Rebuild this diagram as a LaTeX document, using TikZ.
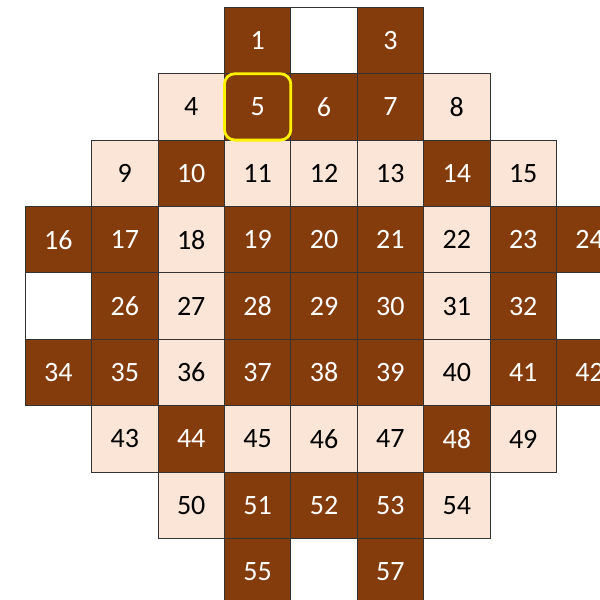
\documentclass[tikz,border=0pt]{standalone}
\usepackage{fontspec}
\setmainfont{Carlito}
\usetikzlibrary{positioning}

\definecolor{rust}{HTML}{843C0C}
\definecolor{peach}{HTML}{FBE5D6}

\begin{document}
\begin{tikzpicture}[
  x=1cm, y=1cm,
  font=\fontsize{12}{14}\selectfont,
  cell/.style={draw=black!80, line width=0.4pt, minimum size=1cm, inner sep=0pt, anchor=center},
  dark/.style={cell, fill=rust, text=white},
  light/.style={cell, fill=peach, text=black},
  hole/.style={cell, fill=white},
  pick/.style={draw=yellow, line width=1.2pt, rounded corners=4.5pt, inner sep=0pt, minimum size=1cm}
]
\useasboundingbox (-0.38, 0.11) rectangle (8.656, -8.926);

% ---------------- row 1 ----------------
\node[dark]  (c1)  at (3.5, -0.5) {1};
\node[hole]  (c2)  at (4.5, -0.5) {};
\node[dark]  (c3)  at (5.5, -0.5) {3};

% ---------------- row 2 ----------------
\node[light] (c4)  at (2.5, -1.5) {4};
\node[dark]  (c5)  at (3.5, -1.5) {5};
\node[dark]  (c6)  at (4.5, -1.5) {6};
\node[dark]  (c7)  at (5.5, -1.5) {7};
\node[light] (c8)  at (6.5, -1.5) {8};

% ---------------- row 3 ----------------
\node[light] (c9)  at (1.5, -2.5) {9};
\node[dark]  (c10) at (2.5, -2.5) {10};
\node[light] (c11) at (3.5, -2.5) {11};
\node[light] (c12) at (4.5, -2.5) {12};
\node[light] (c13) at (5.5, -2.5) {13};
\node[dark]  (c14) at (6.5, -2.5) {14};
\node[light] (c15) at (7.5, -2.5) {15};

% ---------------- row 4 ----------------
\node[dark]  (c16) at (0.5, -3.5) {16};
\node[dark]  (c17) at (1.5, -3.5) {17};
\node[light] (c18) at (2.5, -3.5) {18};
\node[dark]  (c19) at (3.5, -3.5) {19};
\node[dark]  (c20) at (4.5, -3.5) {20};
\node[dark]  (c21) at (5.5, -3.5) {21};
\node[light] (c22) at (6.5, -3.5) {22};
\node[dark]  (c23) at (7.5, -3.5) {23};
\node[dark]  (c24) at (8.5, -3.5) {24};

% ---------------- row 5 ----------------
\node[hole]  (c25) at (0.5, -4.5) {};
\node[dark]  (c26) at (1.5, -4.5) {26};
\node[light] (c27) at (2.5, -4.5) {27};
\node[dark]  (c28) at (3.5, -4.5) {28};
\node[dark]  (c29) at (4.5, -4.5) {29};
\node[dark]  (c30) at (5.5, -4.5) {30};
\node[light] (c31) at (6.5, -4.5) {31};
\node[dark]  (c32) at (7.5, -4.5) {32};
\node[hole]  (c33) at (8.5, -4.5) {};

% ---------------- row 6 ----------------
\node[dark]  (c34) at (0.5, -5.5) {34};
\node[dark]  (c35) at (1.5, -5.5) {35};
\node[light] (c36) at (2.5, -5.5) {36};
\node[dark]  (c37) at (3.5, -5.5) {37};
\node[dark]  (c38) at (4.5, -5.5) {38};
\node[dark]  (c39) at (5.5, -5.5) {39};
\node[light] (c40) at (6.5, -5.5) {40};
\node[dark]  (c41) at (7.5, -5.5) {41};
\node[dark]  (c42) at (8.5, -5.5) {42};

% ---------------- row 7 ----------------
\node[light] (c43) at (1.5, -6.5) {43};
\node[dark]  (c44) at (2.5, -6.5) {44};
\node[light] (c45) at (3.5, -6.5) {45};
\node[light] (c46) at (4.5, -6.5) {46};
\node[light] (c47) at (5.5, -6.5) {47};
\node[dark]  (c48) at (6.5, -6.5) {48};
\node[light] (c49) at (7.5, -6.5) {49};

% ---------------- row 8 ----------------
\node[light] (c50) at (2.5, -7.5) {50};
\node[dark]  (c51) at (3.5, -7.5) {51};
\node[dark]  (c52) at (4.5, -7.5) {52};
\node[dark]  (c53) at (5.5, -7.5) {53};
\node[light] (c54) at (6.5, -7.5) {54};

% ---------------- row 9 ----------------
\node[dark]  (c55) at (3.5, -8.5) {55};
\node[hole]  (c56) at (4.5, -8.5) {};
\node[dark]  (c57) at (5.5, -8.5) {57};

% ---------------- selected cell ----------------
\node[pick] (sel) at (c5.center) {};

\end{tikzpicture}
\end{document}
